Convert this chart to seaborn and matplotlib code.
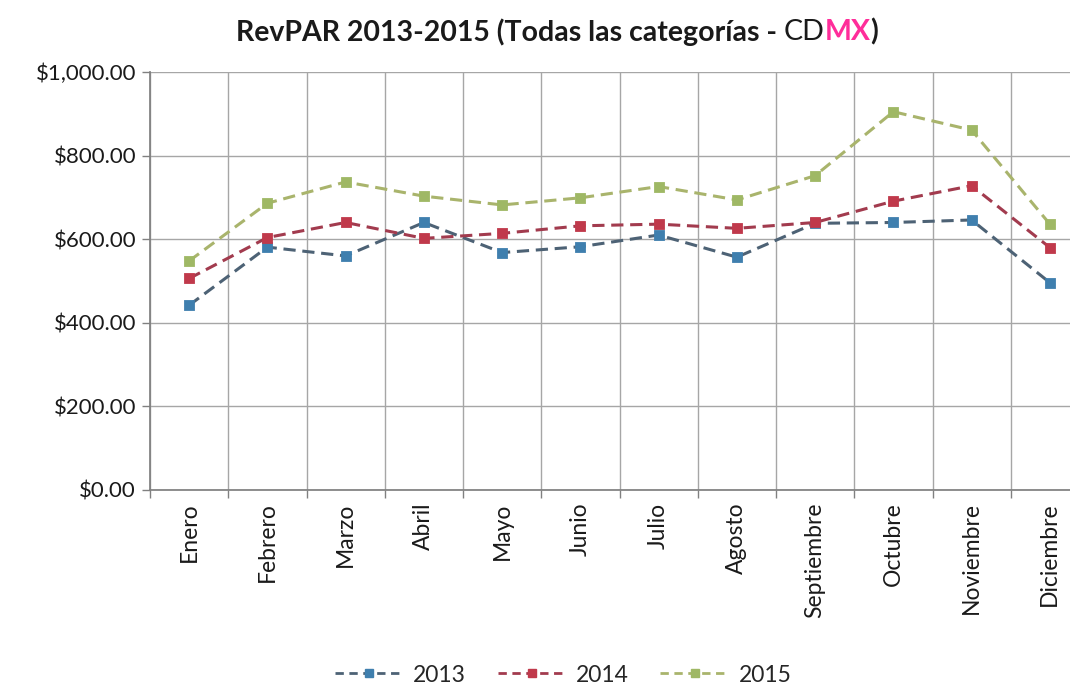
import matplotlib
matplotlib.use("Agg")
import matplotlib.pyplot as plt
import seaborn as sns
import pandas as pd
import numpy as np
from matplotlib.ticker import FixedLocator, FuncFormatter
from matplotlib.lines import Line2D

months = ["Enero", "Febrero", "Marzo", "Abril", "Mayo", "Junio", "Julio",
          "Agosto", "Septiembre", "Octubre", "Noviembre", "Diciembre"]
rev_2013 = [442, 581, 560, 640, 568, 582, 610, 557, 638, 640, 646, 496]
rev_2014 = [506, 604, 640, 602, 614, 632, 636, 626, 640, 691, 728, 580]
rev_2015 = [548, 686, 737, 703, 682, 699, 726, 694, 752, 905, 861, 636]
years = ["2013", "2014", "2015"]

df = pd.DataFrame({
    "Mes": months * 3,
    "RevPAR": rev_2013 + rev_2014 + rev_2015,
    "Año": [years[0]] * 12 + [years[1]] * 12 + [years[2]] * 12,
})
df["x"] = df["Mes"].map({m: i for i, m in enumerate(months)})

sns.set_theme(style="white")
plt.rcParams["font.family"] = ["Lato", "DejaVu Sans"]

line_colors = {"2013": "#4d6275", "2014": "#a23b4e", "2015": "#a9b46c"}
marker_colors = {"2013": "#3f7fae", "2014": "#c0394b", "2015": "#9fb865"}

fig = plt.figure(figsize=(10.7, 6.9), dpi=100)
ax = fig.add_axes([150 / 1070, 1 - 490 / 690, 939 / 1070, 418 / 690])

sns.lineplot(data=df, x="x", y="RevPAR", hue="Año", palette=line_colors,
             ax=ax, legend=False, linewidth=2.2, sort=False)
for line in ax.lines:
    line.set_dashes([4, 2.2])
for yr in years:
    sub = df[df["Año"] == yr]
    sns.scatterplot(x=sub["x"], y=sub["RevPAR"], marker="s", s=55,
                    color=marker_colors[yr], edgecolor=marker_colors[yr],
                    ax=ax, legend=False, zorder=4)

ax.set_xlim(-0.5, 11.5)
ax.set_ylim(0, 1000)
ax.set_xlabel("")
ax.set_ylabel("")

ax.xaxis.set_major_locator(FixedLocator(np.arange(12)))
ax.set_xticklabels(months, rotation=90, fontsize=16.5, color="#1a1a1a")
ax.xaxis.set_minor_locator(FixedLocator(np.arange(-0.5, 12, 1)))
ax.tick_params(axis="x", which="major", length=0, pad=9)
ax.tick_params(axis="x", which="minor", length=6, color="#808080", width=1, direction="out", bottom=True)
ax.grid(axis="x", which="minor", color="#a6a6a6", linewidth=1)

ax.yaxis.set_major_locator(FixedLocator([0, 200, 400, 600, 800, 1000]))
ax.yaxis.set_major_formatter(FuncFormatter(lambda v, p: f"${v:,.2f}"))
ax.tick_params(axis="y", which="major", length=6, color="#808080", width=1,
               direction="out", left=True, labelsize=16, labelcolor="#1a1a1a", pad=4)
ax.grid(axis="y", which="major", color="#a6a6a6", linewidth=1)

for s in ["top", "right"]:
    ax.spines[s].set_visible(False)
ax.spines["left"].set_color("#808080")
ax.spines["bottom"].set_color("#808080")

# Title with mixed styles
title_parts = [("RevPAR 2013-2015 (Todas las categorías - ", "bold", "#1a1a1a"),
               ("CD", "normal", "#1a1a1a"),
               ("MX", "bold", "#ff2d9a"),
               (")", "bold", "#1a1a1a")]
fig.canvas.draw()
renderer = fig.canvas.get_renderer()
texts = []
for txt, w, c in title_parts:
    t = fig.text(0, 0, txt, fontsize=20.5, fontweight=w, color=c, va="center")
    texts.append(t)
widths = [t.get_window_extent(renderer).width for t in texts]
total = sum(widths)
x0 = 557 - total / 2
for t, w in zip(texts, widths):
    t.set_position((x0 / 1070, 1 - 32 / 690))
    x0 += w

# Legend
handles = [Line2D([0], [0], color=line_colors[y], linewidth=2, dashes=[3, 2],
                  marker="s", markersize=6, markerfacecolor=marker_colors[y],
                  markeredgecolor=marker_colors[y]) for y in years]
fig.legend(handles, years, loc="center", bbox_to_anchor=(563 / 1070, 1 - 675 / 690),
           ncol=3, frameon=False, fontsize=16.5, handlelength=3.0, columnspacing=1.4,
           handletextpad=0.4)

fig.savefig("out.png", dpi=100, facecolor="white")
